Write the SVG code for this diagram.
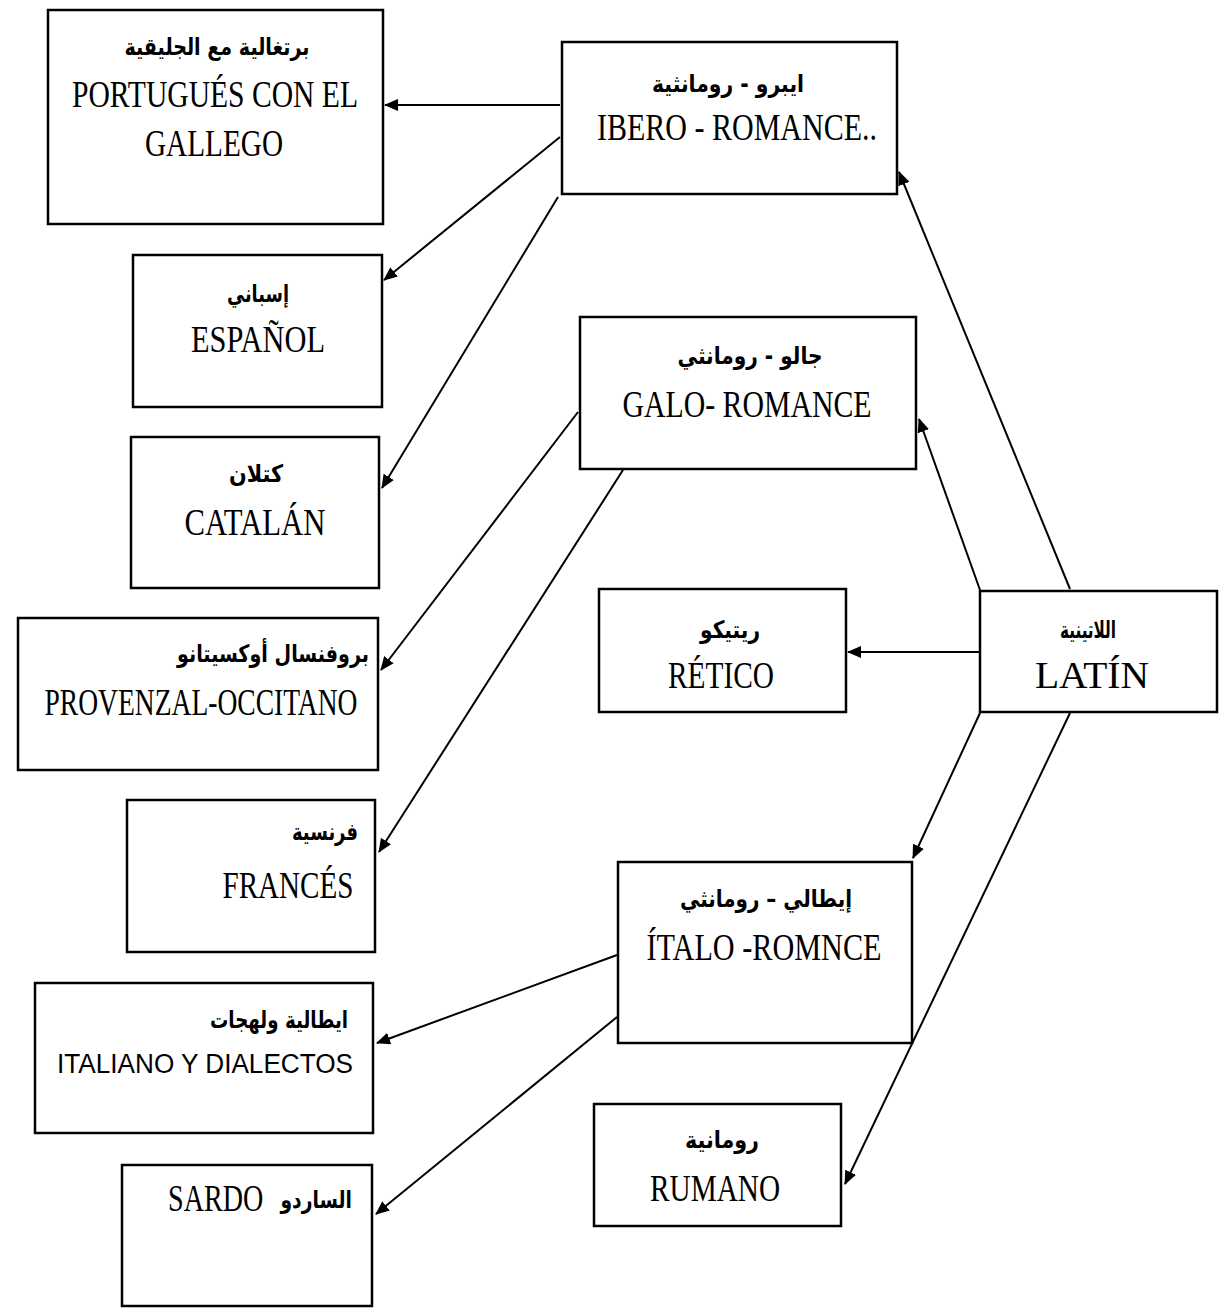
<svg xmlns="http://www.w3.org/2000/svg" width="1219" height="1309" viewBox="0 0 1219 1309">
<style>
.box{fill:#fff;stroke:#000;stroke-width:2.5}
.en{font-family:"Liberation Serif","Times New Roman",serif;font-size:38px;fill:#000}
.ensans{font-family:"Liberation Sans",Arial,sans-serif;font-size:27px;fill:#000}
.ar{font-family:"DejaVu Sans","Noto Sans",sans-serif;font-size:24px;font-weight:bold;fill:#000}
.con{stroke:#000;stroke-width:2;fill:none;marker-end:url(#ah)}
</style>
<defs>
<marker id="ah" markerUnits="userSpaceOnUse" markerWidth="14" markerHeight="12" refX="13" refY="6" orient="auto">
<path d="M0,0 L14,6 L0,12 z" fill="#000"/>
</marker>
</defs>
<rect width="1219" height="1309" fill="#fff"/>

<g id="connectors">
<line class="con" x1="560" y1="105" x2="385" y2="105"/>
<line class="con" x1="560" y1="137" x2="384" y2="280"/>
<line class="con" x1="558" y1="197" x2="382" y2="488"/>
<line class="con" x1="578" y1="412" x2="381" y2="670"/>
<line class="con" x1="623" y1="470" x2="379" y2="852"/>
<line class="con" x1="1070" y1="589" x2="899" y2="172"/>
<line class="con" x1="980" y1="590" x2="919" y2="419"/>
<line class="con" x1="980" y1="652" x2="848" y2="652"/>
<line class="con" x1="980" y1="713" x2="913" y2="858"/>
<line class="con" x1="1070" y1="713" x2="845" y2="1184"/>
<line class="con" x1="617" y1="955" x2="377" y2="1043"/>
<line class="con" x1="617" y1="1017" x2="376" y2="1214"/>
</g>

<g id="portugues">
<rect class="box" x="48" y="10" width="335" height="214"/>
<text class="ar" x="217" y="55" text-anchor="middle" textLength="185" lengthAdjust="spacingAndGlyphs">برتغالية مع الجليقية</text>
<text class="en" x="215" y="107" text-anchor="middle" textLength="286" lengthAdjust="spacingAndGlyphs">PORTUGUÉS CON EL</text>
<text class="en" x="214" y="156" text-anchor="middle" textLength="138" lengthAdjust="spacingAndGlyphs">GALLEGO</text>
</g>

<g id="ibero">
<rect class="box" x="562" y="42" width="335" height="152"/>
<text class="ar" x="728" y="92" text-anchor="middle" textLength="152" lengthAdjust="spacingAndGlyphs">ايبرو - رومانثية</text>
<text class="en" x="737" y="140" text-anchor="middle" textLength="280" lengthAdjust="spacingAndGlyphs">IBERO - ROMANCE..</text>
</g>

<g id="espanol">
<rect class="box" x="133" y="255" width="249" height="152"/>
<text class="ar" x="258" y="302" text-anchor="middle" textLength="62" lengthAdjust="spacingAndGlyphs">إسباني</text>
<text class="en" x="258" y="352" text-anchor="middle" textLength="134" lengthAdjust="spacingAndGlyphs">ESPAÑOL</text>
</g>

<g id="catalan">
<rect class="box" x="131" y="437" width="248" height="151"/>
<text class="ar" x="256" y="482" text-anchor="middle" textLength="54" lengthAdjust="spacingAndGlyphs">كتلان</text>
<text class="en" x="255" y="535" text-anchor="middle" textLength="141" lengthAdjust="spacingAndGlyphs">CATALÁN</text>
</g>

<g id="galo">
<rect class="box" x="580" y="317" width="336" height="152"/>
<text class="ar" x="750" y="364" text-anchor="middle" textLength="145" lengthAdjust="spacingAndGlyphs">جالو - رومانثي</text>
<text class="en" x="747" y="417" text-anchor="middle" textLength="249" lengthAdjust="spacingAndGlyphs">GALO- ROMANCE</text>
</g>

<g id="provenzal">
<rect class="box" x="18" y="618" width="360" height="152"/>
<text class="ar" x="273" y="662" text-anchor="middle" textLength="192" lengthAdjust="spacingAndGlyphs">بروفنسال أوكسيتانو</text>
<text class="en" x="201" y="715" text-anchor="middle" textLength="313" lengthAdjust="spacingAndGlyphs">PROVENZAL-OCCITANO</text>
</g>

<g id="frances">
<rect class="box" x="127" y="800" width="248" height="152"/>
<text class="ar" x="325" y="840" text-anchor="middle" textLength="66" lengthAdjust="spacingAndGlyphs">فرنسية</text>
<text class="en" x="288" y="898" text-anchor="middle" textLength="131" lengthAdjust="spacingAndGlyphs">FRANCÉS</text>
</g>

<g id="retico">
<rect class="box" x="599" y="589" width="247" height="123"/>
<text class="ar" x="730" y="638" text-anchor="middle" textLength="60" lengthAdjust="spacingAndGlyphs">ريتيكو</text>
<text class="en" x="721" y="688" text-anchor="middle" textLength="106" lengthAdjust="spacingAndGlyphs">RÉTICO</text>
</g>

<g id="latin">
<rect class="box" x="980" y="591" width="237" height="121"/>
<text class="ar" x="1088" y="638" text-anchor="middle" textLength="56" lengthAdjust="spacingAndGlyphs">اللاتينية</text>
<text class="en" x="1092" y="688" text-anchor="middle" textLength="114" lengthAdjust="spacingAndGlyphs">LATÍN</text>
</g>

<g id="italo">
<rect class="box" x="618" y="862" width="294" height="181"/>
<text class="ar" x="766" y="907" text-anchor="middle" textLength="172" lengthAdjust="spacingAndGlyphs">إيطالي – رومانثي</text>
<text class="en" x="764" y="960" text-anchor="middle" textLength="235" lengthAdjust="spacingAndGlyphs">ÍTALO -ROMNCE</text>
</g>

<g id="italiano">
<rect class="box" x="35" y="983" width="338" height="150"/>
<text class="ar" x="279" y="1028" text-anchor="middle" textLength="138" lengthAdjust="spacingAndGlyphs">ايطالية ولهجات</text>
<text class="ensans" x="205" y="1073" text-anchor="middle" textLength="296" lengthAdjust="spacingAndGlyphs">ITALIANO  Y DIALECTOS</text>
</g>

<g id="sardo">
<rect class="box" x="122" y="1165" width="250" height="141"/>
<text class="en" font-size="36" transform="translate(168,1211) scale(0.74,1)">SARDO</text>
<text class="ar" font-size="24" text-anchor="end" transform="translate(352,1208) scale(0.78,1)">الساردو</text>
</g>

<g id="rumano">
<rect class="box" x="594" y="1104" width="247" height="122"/>
<text class="ar" x="722" y="1148" text-anchor="middle" textLength="74" lengthAdjust="spacingAndGlyphs">رومانية</text>
<text class="en" x="715" y="1201" text-anchor="middle" textLength="130" lengthAdjust="spacingAndGlyphs">RUMANO</text>
</g>
</svg>
